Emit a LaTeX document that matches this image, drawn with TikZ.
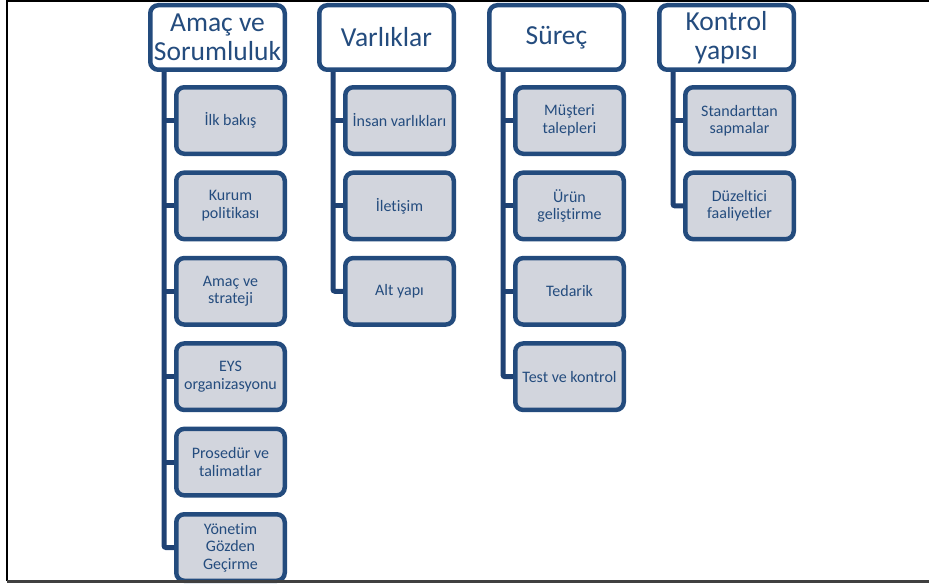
\documentclass[tikz,border=0pt]{standalone}
\usepackage{fontspec}
\setmainfont{Carlito}[Ligatures=NoCommon]
\definecolor{navy}{HTML}{234B7D}
\definecolor{spinecol}{HTML}{1F4274}
\definecolor{cardfill}{HTML}{D2D5DD}
\definecolor{inktext}{HTML}{244C7E}
\tikzset{
  headbox/.style={draw=navy, line width=4.5pt, fill=white, rounded corners=8pt,
    minimum width=134.5pt, minimum height=64.5pt, inner sep=0pt, align=center,
    text=inktext, font=\fontsize{27.5}{29.5}\selectfont},
  cardbox/.style={draw=navy, line width=4.5pt, fill=cardfill, rounded corners=8pt,
    minimum width=108.5pt, minimum height=66.5pt, inner sep=0pt, align=center,
    text=inktext, font=\fontsize{16}{17.5}\selectfont},
  spine/.style={draw=spinecol, line width=5pt, rounded corners=2pt},
  frameline/.style={draw=black, line width=2pt},
}
\begin{document}
\begin{tikzpicture}[x=1pt, y=-1pt]
\useasboundingbox (0,0) rectangle (929,586);

% column headers
\node[headbox] (h1) at (217.5,37.5) {Amaç ve\\Sorumluluk};
\node[headbox] (h2) at (386.5,37.5) {Varlıklar};
\node[headbox] (h3) at (556.5,37.5) {Süreç};
\node[headbox] (h4) at (726.5,37.5) {Kontrol\\yapısı};

% spine start points below each header
\coordinate (s1) at (164,72);
\coordinate (s2) at (333,72);
\coordinate (s3) at (503,72);
\coordinate (s4) at (673,72);

% column 1
\node[cardbox] (c11) at (230.5,120.5) {İlk bakış};
\node[cardbox] (c12) at (230.5,205.9) {Kurum\\politikası};
\node[cardbox] (c13) at (230.5,291.3) {Amaç ve\\strateji};
\node[cardbox] (c14) at (230.5,376.7) {EYS\\organizasyonu};
\node[cardbox] (c15) at (230.5,462.1) {Prosedür ve\\talimatlar};
\node[cardbox] (c16) at (230.5,547.5) {Yönetim\\Gözden\\Geçirme};

% column 2
\node[cardbox] (c21) at (399.5,120.5) {İnsan varlıkları};
\node[cardbox] (c22) at (399.5,205.9) {İletişim};
\node[cardbox] (c23) at (399.5,291.3) {Alt yapı};

% column 3
\node[cardbox] (c31) at (569.5,120.5) {Müşteri\\talepleri};
\node[cardbox] (c32) at (569.5,205.9) {Ürün\\geliştirme};
\node[cardbox] (c33) at (569.5,291.3) {Tedarik};
\node[cardbox] (c34) at (569.5,376.7) {Test ve kontrol};

% column 4
\node[cardbox] (c41) at (739.5,120.5) {Standarttan\\sapmalar};
\node[cardbox] (c42) at (739.5,205.9) {Düzeltici\\faaliyetler};

% connectors: one spine per column, with a stub to each card
\draw[spine] (s1) |- (c16.west);
\foreach \c in {c11,c12,c13,c14,c15} \draw[spine] (\c.west) -- (\c.west -| s1);
\draw[spine] (s2) |- (c23.west);
\foreach \c in {c21,c22} \draw[spine] (\c.west) -- (\c.west -| s2);
\draw[spine] (s3) |- (c34.west);
\foreach \c in {c31,c32,c33} \draw[spine] (\c.west) -- (\c.west -| s3);
\draw[spine] (s4) |- (c42.west);
\draw[spine] (c41.west) -- (c41.west -| s4);

% page frame
\draw[frameline] (929,1.5) -- (7,1.5) -- (7,581);
\draw[draw=black!75, line width=3pt] (7,581) -- (929,581);
\end{tikzpicture}
\end{document}
